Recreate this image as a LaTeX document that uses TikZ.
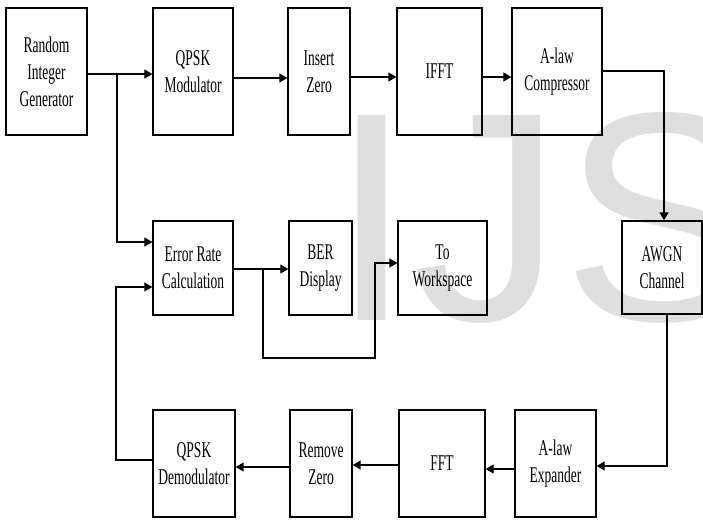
\documentclass[tikz,border=0pt]{standalone}
\usepackage{fontspec}
\usetikzlibrary{arrows.meta}
\newfontfamily\blkfont[FakeStretch=0.6]{Liberation Serif}
\newfontfamily\wmfont{Liberation Sans}
\definecolor{wmgray}{RGB}{223,223,223}
\tikzset{
  blk/.style={draw=black, line width=1.3pt, inner sep=0pt, align=center,
    font=\blkfont\fontsize{22.5}{27}\selectfont},
  arr/.style={line width=1.2pt, -{Triangle[length=8pt,width=9pt]}},
  ln/.style={line width=1.2pt}
}
\begin{document}
\begin{tikzpicture}[x=1pt,y=-1pt]
\useasboundingbox (0,0) rectangle (703,519);
% watermark
\begin{scope}
\clip (0,0) rectangle (703,519);
\node[anchor=base west, inner sep=0pt, text=wmgray,
  font=\wmfont\fontsize{298}{298}\selectfont] (wm) at (330,320) {IJS};
\end{scope}
% top row
\node[blk, minimum width=81pt, minimum height=127pt] (rig)  at (46.5,71.5) {Random\\Integer\\Generator};
\node[blk, minimum width=80pt, minimum height=127pt] (qmod) at (193,71.5) {QPSK\\Modulator};
\node[blk, minimum width=62pt, minimum height=127pt] (ins)  at (319,71.5) {Insert\\Zero};
\node[blk, minimum width=85pt, minimum height=127pt] (ifft) at (439.5,71.5) {IFFT};
\node[blk, minimum width=90pt, minimum height=127pt] (comp) at (557,71.5) {A-law\\Compressor};
% middle row
\node[blk, minimum width=80pt, minimum height=94pt] (err)  at (193,268) {Error Rate\\Calculation};
\node[blk, minimum width=63pt, minimum height=94pt] (ber)  at (320.5,268) {BER\\Display};
\node[blk, minimum width=89pt, minimum height=94pt] (tows) at (442.5,268) {To\\Workspace};
\node[blk, minimum width=80pt, minimum height=93pt] (awgn) at (662,267.5) {AWGN\\Channel};
% bottom row
\node[blk, minimum width=81pt, minimum height=107pt] (exp)   at (555.5,463.5) {A-law\\Expander};
\node[blk, minimum width=86pt, minimum height=107pt] (fft)   at (442,463.5) {FFT};
\node[blk, minimum width=62pt, minimum height=107pt] (rem)   at (321,463.5) {Remove\\Zero};
\node[blk, minimum width=82pt, minimum height=107pt] (demod) at (194,463.5) {QPSK\\Demodulator};
% junction coordinates
\coordinate (b1) at (117,74);
\coordinate (b2) at (263,269);
% top row connectors
\draw[arr] (rig.east |- b1) -- (qmod.west |- b1);
\draw[arr] (b1) -- (117,242) -- (err.west |- 0,242);
\draw[arr] (qmod.east |- 0,78) -- (ins.west |- 0,78);
\draw[arr] (ins.east |- 0,77) -- (ifft.west |- 0,77);
\draw[arr] (ifft.east |- 0,77) -- (comp.west |- 0,77);
\draw[arr] (comp.east |- 0,71) -- (664,71) -- (awgn.north -| 664,0);
% channel to receiver
\draw[arr] (awgn.south -| 667,0) -- (667,466) -- (exp.east |- 0,466);
\draw[arr] (exp.west |- 0,469) -- (fft.east |- 0,469);
\draw[arr] (fft.west |- 0,465) -- (rem.east |- 0,465);
\draw[arr] (rem.west |- 0,467) -- (demod.east |- 0,467);
\draw[arr] (demod.west |- 0,460) -- (116,460) -- (116,287) -- (err.west |- 0,287);
% error rate outputs
\draw[arr] (err.east |- b2) -- (ber.west |- b2);
\draw[arr] (b2) -- (263,358) -- (375,358) -- (375,263) -- (tows.west |- 0,263);
\end{tikzpicture}
\end{document}
